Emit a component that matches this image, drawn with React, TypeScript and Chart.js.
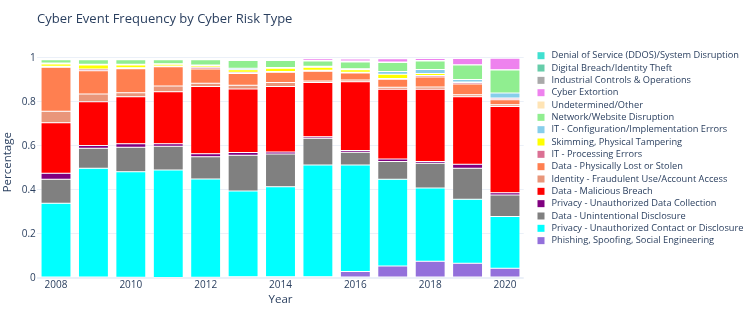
import React, { useEffect, useRef } from 'react';
import { Chart, registerables } from 'chart.js';

Chart.register(...registerables);

const years = ['2008', '2009', '2010', '2011', '2012', '2013', '2014', '2015', '2016', '2017', '2018', '2019', '2020'];
const yTickValues = [0, 0.2, 0.4, 0.6, 0.8, 1];

// Series listed bottom-of-stack first
const phishing = [0.005, 0.004, 0.003, 0.002, 0.003, 0.006, 0.006, 0.006, 0.029, 0.055, 0.076, 0.067, 0.044];
const privacyContact = [0.335, 0.495, 0.48, 0.489, 0.447, 0.389, 0.409, 0.508, 0.485, 0.394, 0.333, 0.291, 0.235];
const dataUnintentional = [0.109, 0.091, 0.111, 0.108, 0.101, 0.163, 0.149, 0.121, 0.057, 0.081, 0.112, 0.141, 0.098];
const privacyCollection = [0.027, 0.012, 0.016, 0.011, 0.014, 0.012, 0.009, 0.007, 0.009, 0.011, 0.009, 0.018, 0.011];
const dataMalicious = [0.23, 0.199, 0.214, 0.237, 0.305, 0.289, 0.297, 0.246, 0.312, 0.317, 0.328, 0.307, 0.391];
const identityFraud = [0.052, 0.035, 0.018, 0.026, 0.015, 0.017, 0.018, 0.007, 0.008, 0.009, 0.01, 0.009, 0.008];
const dataLost = [0.2, 0.106, 0.109, 0.087, 0.065, 0.054, 0.047, 0.045, 0.032, 0.036, 0.045, 0.049, 0.023];
const itProcessing = [0.004, 0.008, 0.005, 0.003, 0.008, 0.005, 0.004, 0.004, 0.003, 0.004, 0.007, 0.007, 0.007];
const skimming = [0.011, 0.018, 0.012, 0.008, 0.007, 0.012, 0.014, 0.014, 0.012, 0.019, 0.01, 0.002, 0.001];
const itConfig = [0.004, 0.003, 0.004, 0.003, 0.003, 0.006, 0.004, 0.004, 0.004, 0.012, 0.018, 0.011, 0.023];
const networkDisruption = [0.015, 0.021, 0.02, 0.018, 0.024, 0.035, 0.031, 0.024, 0.031, 0.041, 0.038, 0.066, 0.104];
const undetermined = [0.004, 0.003, 0.003, 0.003, 0.003, 0.004, 0.005, 0.002, 0.004, 0.003, 0.003, 0.001, 0.001];
const cyberExtortion = [0, 0, 0, 0, 0, 0, 0.002, 0.008, 0.009, 0.015, 0.009, 0.029, 0.053];
const industrial = [0.001, 0.001, 0.001, 0.001, 0.001, 0.002, 0.001, 0.001, 0.001, 0.001, 0.001, 0.001, 0];
const digitalBreach = [0.001, 0.002, 0.002, 0.002, 0.002, 0.003, 0.002, 0.001, 0.002, 0.001, 0.001, 0.001, 0.001];
const ddos = [0.002, 0.002, 0.002, 0.002, 0.002, 0.003, 0.002, 0.002, 0.002, 0.001, 0.001, 0, 0];

const seriesNames = [
  'Phishing, Spoofing, Social Engineering',
  'Privacy - Unauthorized Contact or Disclosure',
  'Data - Unintentional Disclosure',
  'Privacy - Unauthorized Data Collection',
  'Data - Malicious Breach',
  'Identity - Fraudulent Use/Account Access',
  'Data - Physically Lost or Stolen',
  'IT - Processing Errors',
  'Skimming, Physical Tampering',
  'IT - Configuration/Implementation Errors',
  'Network/Website Disruption',
  'Undetermined/Other',
  'Cyber Extortion',
  'Industrial Controls & Operations',
  'Digital Breach/Identity Theft',
  'Denial of Service (DDOS)/System Disruption',
];
const seriesValues = [
  phishing, privacyContact, dataUnintentional, privacyCollection, dataMalicious, identityFraud,
  dataLost, itProcessing, skimming, itConfig, networkDisruption, undetermined, cyberExtortion,
  industrial, digitalBreach, ddos,
];
const seriesColors = [
  '#9370DB', '#00FFFF', '#808080', '#800080', '#FF0000', '#E9967A', '#FF7F50', '#DB7093',
  '#FFFF00', '#87CEEB', '#90EE90', '#FFE4B5', '#EE82EE', '#A9A9A9', '#66CDAA', '#40E0D0',
];

const FONT = '"Open Sans", Verdana, Arial, sans-serif';
const TEXT = '#2a3f5f';

const overlayPlugin = {
  id: 'overlay',
  afterDraw(chart: any) {
    const ctx = chart.ctx;
    ctx.save();
    ctx.fillStyle = TEXT;
    ctx.textBaseline = 'middle';
    ctx.textAlign = 'left';
    ctx.font = `13px ${FONT}`;
    ctx.fillText('Cyber Event Frequency by Cyber Risk Type', 37, 19);
    const ds = chart.data.datasets;
    ctx.font = `9.25px ${FONT}`;
    for (let k = 0; k < ds.length; k++) {
      const d = ds[ds.length - 1 - k];
      const y = 55.7 + k * 12.33;
      ctx.fillStyle = d.backgroundColor;
      ctx.fillRect(537.5, y - 3.5, 7, 7);
      ctx.fillStyle = TEXT;
      ctx.fillText(d.label, 551.5, y);
    }
    ctx.restore();
  },
};

export default function App() {
  const ref = useRef<HTMLCanvasElement | null>(null);
  useEffect(() => {
    if (!ref.current) return;
    const chart = new Chart(ref.current, {
      type: 'bar',
      data: {
        labels: years,
        datasets: seriesNames.map((name, i) => ({
          label: name,
          data: seriesValues[i],
          backgroundColor: seriesColors[i],
          borderColor: 'rgba(255,255,255,0.6)',
          borderWidth: 0.5,
          borderSkipped: false,
          barPercentage: 0.8,
          categoryPercentage: 1.0,
        })),
      },
      options: {
        responsive: false,
        animation: false,
        layout: { padding: { left: 0, top: 46.4, right: 226.3, bottom: 0 } },
        plugins: {
          legend: { display: false },
          title: { display: false },
          tooltip: { enabled: false },
        },
        scales: {
          x: {
            stacked: true,
            offset: true,
            grid: { display: false, drawTicks: false },
            border: { display: false },
            ticks: {
              autoSkip: false,
              maxRotation: 0,
              minRotation: 0,
              padding: 1.5,
              color: TEXT,
              font: { family: FONT, size: 10 },
              callback: (_v: any, i: number) => (i % 2 === 0 ? years[i] : ''),
            },
            title: {
              display: true,
              text: 'Year',
              color: TEXT,
              font: { family: FONT, size: 11.5 },
              padding: { top: 0, bottom: 9 },
            },
            afterFit: (s: any) => { s.height = 38; },
          },
          y: {
            stacked: true,
            min: 0,
            max: 1.0526,
            grid: {
              color: '#EBF0F8',
              drawTicks: false,
              lineWidth: (c: any) => (c.tick && c.tick.value === 0 ? 2 : 1),
            },
            border: { display: false },
            ticks: {
              stepSize: 0.2,
              includeBounds: false,
              padding: 1.5,
              color: TEXT,
              font: { family: FONT, size: 10 },
              callback: (v: any) => {
                const r = Math.round(Number(v) * 10) / 10;
                return yTickValues.includes(r) ? String(r) : '';
              },
            },
            title: {
              display: true,
              text: 'Percentage',
              color: TEXT,
              font: { family: FONT, size: 11.5 },
              padding: { top: 1, bottom: 0 },
            },
            afterFit: (s: any) => { s.width = 37.3; },
          },
        },
      },
      plugins: [overlayPlugin],
    });
    return () => chart.destroy();
  }, []);
  return (
    <div style={{ position: 'fixed', left: 0, top: 0, width: 750, height: 316, background: '#fff' }}>
      <canvas ref={ref} width={750} height={316} />
    </div>
  );
}
